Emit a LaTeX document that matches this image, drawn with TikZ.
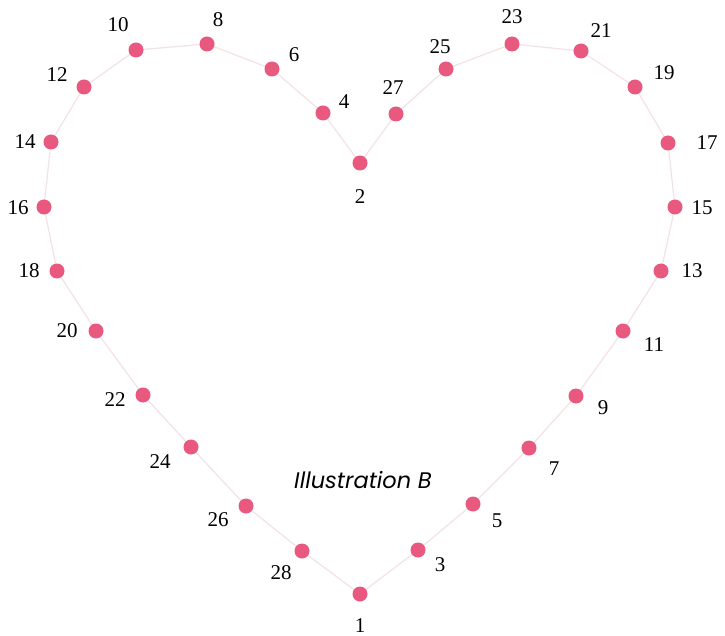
\documentclass[tikz,border=0pt]{standalone}
\usepackage{fontspec}
\setmainfont{Liberation Serif}
\newfontfamily\numfont{Liberation Serif}
\newfontfamily\illfont{Poppins}
\definecolor{dotpink}{HTML}{E8587F}
\definecolor{linepink}{HTML}{F3E2E6}
\begin{document}
\begin{tikzpicture}[x=1pt,y=-1pt,
  dotnode/.style={circle,fill=dotpink,draw=none,minimum size=15pt,inner sep=0pt},
  numlabel/.style={font=\numfont\fontsize{21}{21}\selectfont,text=black,inner sep=0pt},
  outline/.style={draw=linepink,line width=1.2pt}]
\useasboundingbox (0,0) rectangle (725,636);
\fill[white] (0,0) rectangle (725,636);
% dots
\foreach \n/\x/\y in {1/360/594, 2/360/163, 3/418/550, 4/323/113, 5/473/504, 6/272/69,
  7/529/448, 8/207/44, 9/576/396, 10/136/50, 11/623/331, 12/84/87, 13/661/271,
  14/51/142, 15/675/207, 16/44/207, 17/668/143, 18/57/271, 19/635/87, 20/96/331,
  21/581/51, 22/143/395, 23/512/44, 24/191/447, 25/446/69, 26/246/506, 27/396/114, 28/302/551}
  {\coordinate (p\n) at (\x,\y);}
\draw[outline] (p1) -- (p3) -- (p5) -- (p7) -- (p9) -- (p11) -- (p13) -- (p15) -- (p17)
  -- (p19) -- (p21) -- (p23) -- (p25) -- (p27) -- (p2) -- (p4) -- (p6) -- (p8) -- (p10)
  -- (p12) -- (p14) -- (p16) -- (p18) -- (p20) -- (p22) -- (p24) -- (p26) -- (p28) -- cycle;
\foreach \n in {1,...,28} {\node[dotnode] (d\n) at (p\n) {};}
% labels
\foreach \n/\x/\y in {1/360/626, 2/360/197, 3/440/565, 4/344/102, 5/497/521, 6/294/55,
  7/554/469, 8/218/20, 9/603/408, 10/118/25, 11/654/345, 12/57/75, 13/692/271,
  14/25/142, 15/702/208, 16/18/208, 17/707/143, 18/29/271, 19/664/73, 20/67/331,
  21/601/31, 22/115/400, 23/512/17, 24/160/462, 25/440/47, 26/218/520, 27/393/88, 28/281/573}
  {\node[numlabel] (l\n) at (\x,\y) {\n};}
\node[font=\illfont\itshape\fontsize{22.5}{22.5}\selectfont,inner sep=0pt] (title) at (363,480) {Illustration B};
\end{tikzpicture}
\end{document}
